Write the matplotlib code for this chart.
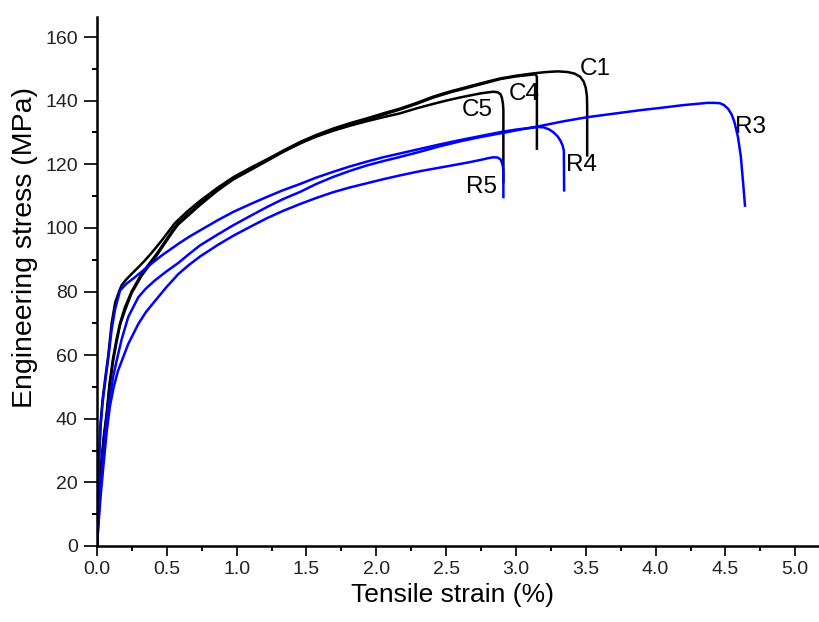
import matplotlib
matplotlib.use("Agg")
import matplotlib.pyplot as plt
from matplotlib.ticker import MultipleLocator

plt.rcParams['font.family'] = ['Liberation Sans', 'DejaVu Sans']

# strain (%) / stress (MPa)
c1_strain = [0, 0.01, 0.02, 0.035, 0.05, 0.07, 0.09, 0.115, 0.14, 0.165, 0.2, 0.248,
             0.32, 0.43, 0.535, 0.58, 0.738, 0.86, 0.975, 1.1, 1.215, 1.33, 1.454, 1.57,
             1.69, 1.81, 1.93, 2.05, 2.17, 2.29, 2.41, 2.53, 2.65, 2.77, 2.89, 3.01,
             3.13, 3.22, 3.3, 3.37, 3.42, 3.46, 3.485, 3.5, 3.508, 3.51, 3.51]
c1_stress = [0, 10, 20, 28, 35, 42, 51, 59, 65, 70, 75, 80,
             85.6, 92, 98.8, 101.5, 107.7, 112, 115.6, 118.6, 121.3, 124.2, 127, 129.2,
             131.2, 132.9, 134.4, 136, 137.5, 139.3, 141.3, 142.9, 144.3, 145.7, 147, 147.9,
             148.6, 149, 149.2, 149, 148.5, 147.5, 146, 144, 141.5, 138, 122.8]

c4_strain = [0, 0.01, 0.02, 0.035, 0.05, 0.07, 0.09, 0.115, 0.14, 0.165, 0.2, 0.248,
             0.32, 0.43, 0.535, 0.58, 0.738, 0.86, 0.975, 1.1, 1.215, 1.33, 1.454, 1.57,
             1.69, 1.81, 1.93, 2.05, 2.17, 2.29, 2.41, 2.53, 2.65, 2.77, 2.89, 3.0,
             3.08, 3.14, 3.15, 3.15]
c4_stress = [0, 9, 19, 27, 34, 41, 50, 58, 64, 69.5, 74, 79.5,
             85, 91.5, 98.3, 101, 107.2, 111.6, 115.2, 118.2, 121, 123.8, 126.5, 128.8,
             130.8, 132.5, 134, 135.6, 137.2, 139, 141, 142.6, 144, 145.4, 146.8, 147.6,
             148, 148.3, 147.5, 124.9]

c5_strain = [0, 0.008, 0.015, 0.025, 0.04, 0.06, 0.081, 0.105, 0.13, 0.158, 0.177,
             0.21, 0.25, 0.3, 0.344, 0.4, 0.463, 0.558, 0.65, 0.738, 0.86, 0.975, 1.1,
             1.215, 1.33, 1.454, 1.57, 1.69, 1.81, 1.93, 2.05, 2.17, 2.29, 2.41, 2.5,
             2.6, 2.68, 2.75, 2.8, 2.84, 2.87, 2.89, 2.9, 2.907, 2.91, 2.91]
c5_stress = [0, 15, 28, 38, 46, 53, 60, 70, 76.5, 80, 82,
             83.8, 85.6, 87.8, 89.8, 92.6, 96, 101.5, 105.3, 108.5, 112.5, 115.9, 118.9,
             121.5, 124.1, 126.7, 128.7, 130.5, 132.1, 133.5, 134.8, 136, 137.6, 139, 140,
             141, 141.7, 142.3, 142.6, 142.8, 142.6, 142, 140.8, 139, 137, 114.4]

r3_strain = [0, 0.01, 0.025, 0.045, 0.065, 0.09, 0.115, 0.141, 0.177, 0.224, 0.296,
             0.35, 0.415, 0.5, 0.583, 0.66, 0.738, 0.86, 0.975, 1.1, 1.215, 1.33, 1.454,
             1.57, 1.69, 1.81, 1.93, 2.05, 2.17, 2.31, 2.45, 2.6, 2.75, 2.9, 3.03, 3.17,
             3.34, 3.51, 3.7, 3.89, 4.05, 4.2, 4.3, 4.37, 4.42, 4.46, 4.49, 4.52, 4.545,
             4.565, 4.59, 4.61, 4.625, 4.64]
r3_stress = [0, 8, 18, 28, 38, 46, 53, 58.3, 65, 72, 78.2,
             80.9, 83.5, 86.4, 89, 91.8, 94.5, 97.8, 100.8, 103.8, 106.5, 109, 111.3,
             113.8, 116, 117.9, 119.6, 121, 122.3, 123.9, 125.6, 127.2, 128.6, 129.8, 130.9, 132,
             133.5, 134.8, 135.9, 137, 137.8, 138.6, 139, 139.3, 139.3, 139.2, 138.6, 137.4, 135.6,
             133.2, 128.5, 122.5, 115, 107]

r4_strain = [0, 0.008, 0.015, 0.025, 0.04, 0.06, 0.081, 0.105, 0.13, 0.165, 0.21, 0.272,
             0.344, 0.4, 0.463, 0.583, 0.66, 0.738, 0.86, 0.975, 1.1, 1.215, 1.33, 1.454,
             1.57, 1.69, 1.81, 1.93, 2.05, 2.17, 2.31, 2.45, 2.6, 2.75, 2.9, 3.0, 3.1,
             3.16, 3.2, 3.24, 3.27, 3.3, 3.32, 3.335, 3.343, 3.345]
r4_stress = [0, 14, 27, 37, 45, 52, 59, 68, 74.5, 80.3, 82.4, 84.5,
             87.1, 89.1, 91.3, 95, 97.2, 99.2, 102.3, 105, 107.5, 109.7, 111.8, 113.8,
             115.8, 117.6, 119.3, 120.8, 122.2, 123.4, 124.8, 126.2, 127.6, 128.9, 130.2, 130.9, 131.4,
             131.7, 131.6, 130.9, 130, 128.7, 127.3, 125.8, 124.2, 111.8]

r5_strain = [0, 0.01, 0.025, 0.045, 0.07, 0.093, 0.12, 0.15, 0.189, 0.224, 0.296,
             0.35, 0.415, 0.5, 0.583, 0.66, 0.738, 0.86, 0.975, 1.1, 1.215, 1.33, 1.454,
             1.57, 1.69, 1.81, 1.93, 2.05, 2.17, 2.31, 2.5, 2.65, 2.74, 2.8, 2.84, 2.87,
             2.89, 2.9, 2.908, 2.91, 2.91]
r5_stress = [0, 6, 15, 24.7, 36, 44, 50, 55, 59.5, 63.5, 69.8,
             73.5, 77, 81.5, 85.5, 88.4, 91, 94.5, 97.5, 100.4, 103, 105.3, 107.5,
             109.4, 111.2, 112.7, 114, 115.3, 116.5, 117.8, 119.3, 120.5, 121.3, 121.9, 122.2, 122.1,
             121.5, 120.5, 119, 117, 109.7]

labels = ["C1", "C4", "C5", "R3", "R4", "R5"]
label_x = [3.57, 3.06, 2.72, 4.68, 3.47, 2.75]
label_y = [150, 142, 137, 131.6, 119.7, 113]

fig = plt.figure(figsize=(8.19, 6.22), dpi=100)
ax = fig.add_axes([0.1184, 0.1222, 0.8816, 0.8505])

lw = 1.8
ax.plot(c1_strain, c1_stress, color="black", lw=lw)
ax.plot(c4_strain, c4_stress, color="black", lw=lw)
ax.plot(c5_strain, c5_stress, color="black", lw=lw)
ax.plot(r3_strain, r3_stress, color="#0000ff", lw=lw)
ax.plot(r4_strain, r4_stress, color="#0000ff", lw=lw)
ax.plot(r5_strain, r5_stress, color="#0000ff", lw=lw)

for t, x, y in zip(labels, label_x, label_y):
    ax.text(x, y, t, fontsize=17.5, ha="center", va="center")

ax.set_xlim(0, 5.17)
ax.set_ylim(0, 166.3)
ax.xaxis.set_major_locator(MultipleLocator(0.5))
ax.xaxis.set_minor_locator(MultipleLocator(0.25))
ax.yaxis.set_major_locator(MultipleLocator(20))
ax.yaxis.set_minor_locator(MultipleLocator(10))
ax.xaxis.set_major_formatter(plt.FormatStrFormatter("%.1f"))

for s in ["top", "right"]:
    ax.spines[s].set_visible(False)
for s in ["left", "bottom"]:
    ax.spines[s].set_linewidth(1.8)

ax.tick_params(axis="x", which="major", direction="out", length=7.5, width=1.4,
               labelsize=14, pad=3.6, colors="#222222")
ax.tick_params(axis="y", which="major", direction="out", length=9.5, width=1.4,
               labelsize=14, pad=4.3, colors="#222222")
ax.tick_params(which="minor", direction="out", length=3.8, width=1.4)

ax.set_xlabel("Tensile strain (%)", fontsize=19)
ax.set_ylabel("Engineering stress (MPa)", fontsize=20.5)
ax.xaxis.set_label_coords(0.492, -0.07)
ax.yaxis.set_label_coords(-0.082, 0.565)

fig.savefig("out.png", dpi=100)
